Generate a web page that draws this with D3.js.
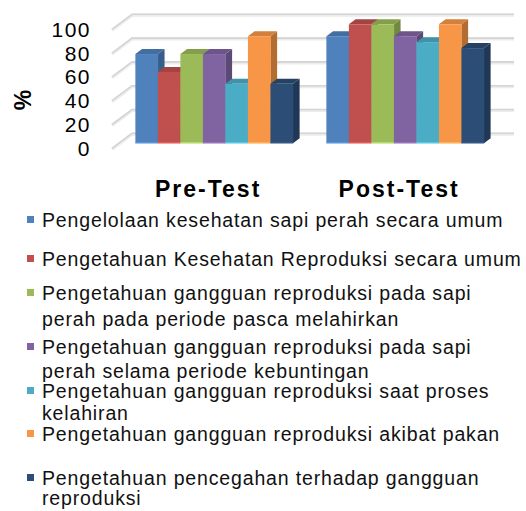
<!DOCTYPE html>
<html><head><meta charset="utf-8">
<script src="https://cdn.jsdelivr.net/npm/d3@7/dist/d3.min.js"></script>
<style>
html,body{margin:0;padding:0;background:#fff;}
svg{display:block;}
</style></head>
<body><svg id="chart" width="526" height="511" font-family="Liberation Sans, Arial, sans-serif"></svg>
<script>
// ---- data ----
const categories = ["Pre-Test", "Post-Test"];
const seriesNames = [
  "Pengelolaan kesehatan sapi perah secara umum",
  "Pengetahuan Kesehatan Reproduksi secara umum",
  "Pengetahuan gangguan reproduksi pada sapi\nperah pada periode pasca melahirkan",
  "Pengetahuan gangguan reproduksi pada sapi\nperah selama periode kebuntingan",
  "Pengetahuan gangguan reproduksi saat proses\nkelahiran",
  "Pengetahuan gangguan reproduksi akibat pakan",
  "Pengetahuan pencegahan terhadap gangguan\nreproduksi"
];
const preTest  = [75, 60, 75, 75, 50, 90, 50];
const postTest = [90, 100, 100, 90, 85, 100, 80];
const yTicks = [0, 20, 40, 60, 80, 100];
const axisTitle = "%";
const colors = ["#4F81BD", "#C0504D", "#9BBB59", "#8064A2", "#4BACC6", "#F79646", "#2C4D75"];

// ---- layout ----
const svg = d3.select("#chart");
const back = {x0: 132, x1: 514};
const depth = {dx: -20, dy: 15};      // back wall -> front edge of floor
const barFront = 0.667, barBack = 0.333;
const y = d3.scaleLinear().domain([0, 100]).range([133.3, 14.3]); // on back wall
const x = d3.scaleBand().domain(categories).range([back.x0, back.x1])
  .paddingInner(0.175).paddingOuter(0.0875);
const values = [preTest, postTest];

// gridlines (side wall + back wall)
const grid = svg.append("g");
yTicks.forEach(t => {
  const yb = y(t);
  const pts = [[back.x0 + depth.dx, yb + depth.dy], [back.x0, yb], [back.x1, yb]];
  grid.append("polyline").attr("points", pts.map(p => p.join(",")).join(" "))
    .attr("fill", "none").attr("stroke", "#ececec").attr("stroke-width", 3)
    .attr("transform", "translate(0,1)");
  grid.append("polyline").attr("points", pts.map(p => p.join(",")).join(" "))
    .attr("fill", "none").attr("stroke", "#d4d4d4").attr("stroke-width", 1.6);
});

// tick labels
svg.append("g").selectAll("text").data(yTicks).join("text")
  .attr("x", 91).attr("y", d => y(d) + depth.dy)
  .attr("dy", "0.36em").attr("text-anchor", "end")
  .attr("font-size", 21).attr("letter-spacing", 1.5).attr("fill", "#000")
  .text(d => d);

svg.append("text").attr("transform", "translate(31,100) rotate(-90)")
  .attr("text-anchor", "middle").attr("font-size", 23).attr("font-weight", "bold")
  .attr("fill", "#000").text(axisTitle);

// bars
const n = seriesNames.length;
const bw = x.bandwidth() / n;
const fx = depth.dx * barFront, fy = depth.dy * barFront;
const ox = depth.dx * (barBack - barFront), oy = depth.dy * (barBack - barFront);
const bars = svg.append("g");
categories.forEach((c, ci) => {
  values[ci].forEach((v, si) => {
    const xl = x(c) + si * bw + fx, xr = xl + bw;
    const yt = y(v) + fy, yb = y(0) + fy;
    const col = d3.color(colors[si]);
    bars.append("path")
      .attr("d", `M${xr},${yt}L${xr + ox},${yt + oy}L${xr + ox},${yb + oy}L${xr},${yb}Z`)
      .attr("fill", col.darker(0.9));
    bars.append("path")
      .attr("d", `M${xl},${yt}L${xl + ox},${yt + oy}L${xr + ox},${yt + oy}L${xr},${yt}Z`)
      .attr("fill", col.darker(0.45));
    bars.append("rect").attr("x", xl).attr("y", yt).attr("width", bw + 0.3).attr("height", yb - yt)
      .attr("fill", colors[si]);
    bars.append("line").attr("x1", xl).attr("x2", xr).attr("y1", yb - 0.5).attr("y2", yb - 0.5)
      .attr("stroke", col.brighter(0.6)).attr("stroke-width", 1);
  });
});

// category labels
svg.append("g").selectAll("text").data(categories).join("text")
  .attr("x", d => x(d) + x.bandwidth() / 2 + fx - 6).attr("y", 197)
  .attr("text-anchor", "middle").attr("font-size", 23).attr("font-weight", "bold")
  .attr("letter-spacing", 2).attr("fill", "#000").text(d => d);

// legend
const legendY = [227, 266, 300, 354, 398, 441, 485];
const lineH = [24, 24, 26, 24, 22, 24, 20];
const leg = svg.append("g");
seriesNames.forEach((name, i) => {
  leg.append("rect").attr("x", 27).attr("y", legendY[i] - 11).attr("width", 7).attr("height", 7)
    .attr("fill", colors[i]);
  const t = leg.append("text").attr("x", 42).attr("y", legendY[i])
    .attr("font-size", 19.5).attr("letter-spacing", 0.85).attr("fill", "#111");
  name.split("\n").forEach((line, li) => {
    t.append("tspan").attr("x", 42).attr("dy", li === 0 ? 0 : lineH[i]).text(line);
  });
});
</script></body></html>
